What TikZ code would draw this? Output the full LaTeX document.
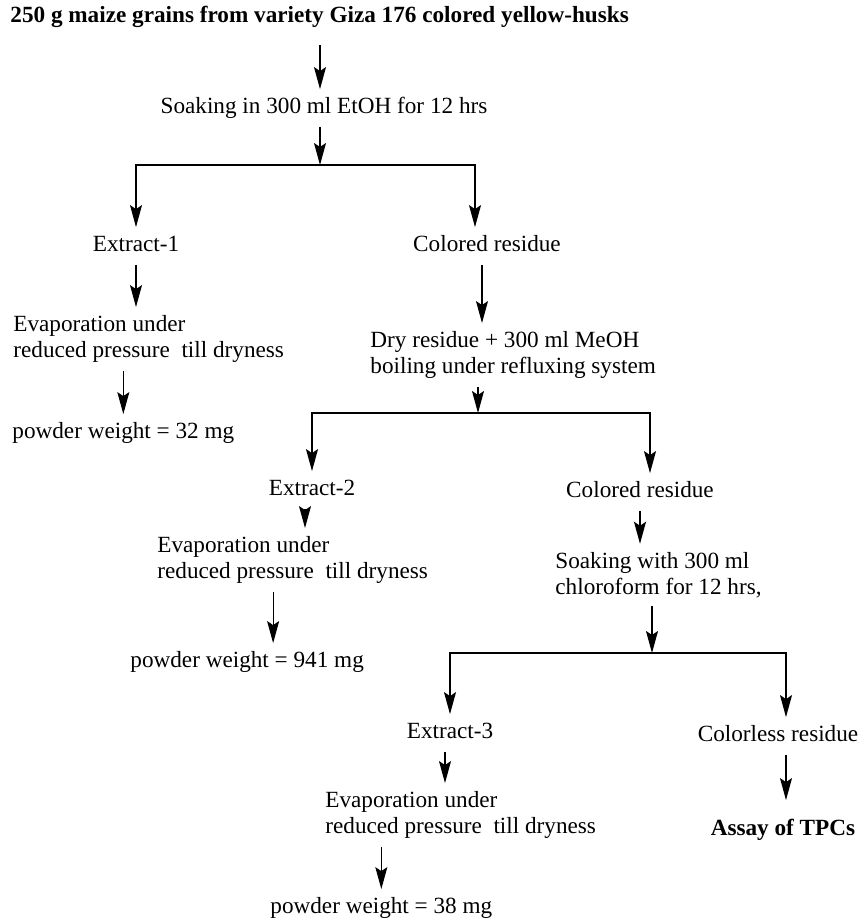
\documentclass[tikz,border=0pt]{standalone}
\usepackage{fontspec}
\setmainfont{Liberation Serif}
\usepackage{tikz}
\usetikzlibrary{arrows.meta,positioning}
\definecolor{flowink}{RGB}{0, 0, 0}
\tikzset{
 stepnode/.style={
 inner xsep=0pt,
 inner ysep=4pt,
 text height=8pt,
 text depth=2.5pt,
 text=flowink,
 font=\fontsize{11.6}{13}\selectfont
 },
 stepblock/.style={
 inner xsep=0pt,
 inner ysep=4pt,
 align=left,
 anchor=west,
 text=flowink,
 font=\fontsize{11.6}{13}\selectfont
 },
 headnode/.style={
 stepnode,
 font=\fontsize{11.6}{13}\selectfont\bfseries
 },
 flowarrow/.style={-{Stealth[length=11pt,width=6pt,inset=2pt]}, line width=0.6pt, draw=flowink}
}

\begin{document}
\begin{tikzpicture}[x=0.5pt,y=-0.5pt]
 \useasboundingbox (0,0) rectangle (865,922);

 \node[headnode, anchor=west] (grains) at (10,17) {250 g maize grains from variety Giza 176 colored yellow-husks};
 \node[stepnode] (soak1) at (324,108) {Soaking in 300 ml EtOH for 12 hrs};
 \coordinate (split1) at (320,165);

 \node[stepnode] (ext1) at (136,246) {Extract-1};
 \node[stepblock] (evap1) at (13,339) {Evaporation under\\reduced pressure\ \ till dryness};
 \node[stepnode, anchor=west] (pw1) at (12,433) {powder weight = 32 mg};

 \node[stepnode] (col1) at (487,246) {Colored residue};
 \node[stepblock] (dry) at (370,355) {Dry residue + 300 ml MeOH\\boiling under refluxing system};
 \coordinate (split2) at (478,413);

 \node[stepnode] (ext2) at (312,490) {Extract-2};
 \node[stepblock] (evap2) at (157,560) {Evaporation under\\reduced pressure\ \ till dryness};
 \node[stepnode, anchor=west] (pw2) at (130,662) {powder weight = 941 mg};

 \node[stepnode] (col2) at (640,492) {Colored residue};
 \node[stepblock] (soak2) at (555,575) {Soaking with 300 ml\\chloroform for 12 hrs,};
 \coordinate (split3) at (652,653);

 \node[stepnode] (ext3) at (450,733) {Extract-3};
 \node[stepblock] (evap3) at (325,815) {Evaporation under\\reduced pressure\ \ till dryness};
 \node[stepnode, anchor=west] (pw3) at (270,908) {powder weight = 38 mg};

 \node[stepnode] (cres) at (778,736) {Colorless residue};
 \node[headnode] (assay) at (783,830) {Assay of TPCs};

 \draw[flowarrow, shorten <=4.5pt] (grains.south -| split1) -- (soak1.north -| split1);
 \draw[flowarrow] (soak1.south -| split1) -- (split1);
 \draw[flowarrow] (split1) -| (ext1.north);
 \draw[flowarrow] (split1) -| ([xshift=-6pt]col1.north);

 \draw[flowarrow] (ext1.south) -- (ext1.south |- evap1.north);
 \draw[flowarrow] (pw1.north |- evap1.south) -- (pw1.north);

 \draw[flowarrow] ([xshift=-2.5pt]col1.south) -- ([xshift=-2.5pt]col1.south |- dry.north);
 \draw[flowarrow] (dry.south -| split2) -- (split2);
 \draw[flowarrow] (split2) -| (ext2.north);
 \draw[flowarrow] (split2) -| ([xshift=5pt]col2.north);

 \draw[flowarrow] ([xshift=-3.5pt]ext2.south) -- ([xshift=-3.5pt]ext2.south |- evap2.north);
 \draw[flowarrow] ([xshift=13pt]pw2.north |- evap2.south) -- ([xshift=13pt]pw2.north);

 \draw[flowarrow] (col2.south) -- (col2.south |- soak2.north);
 \draw[flowarrow] (soak2.south -| split3) -- (split3);
 \draw[flowarrow] (split3) -| (ext3.north);
 \draw[flowarrow] (split3) -| ([xshift=4pt]cres.north);

 \draw[flowarrow] ([xshift=-2.5pt]ext3.south) -- ([xshift=-2.5pt]ext3.south |- evap3.north);
 \draw[flowarrow] (pw3.north |- evap3.south) -- (pw3.north);
 \draw[flowarrow, shorten >=5.5pt] ([xshift=4pt]cres.south) -- ([xshift=4pt]cres.south |- assay.north);
\end{tikzpicture}
\end{document}
